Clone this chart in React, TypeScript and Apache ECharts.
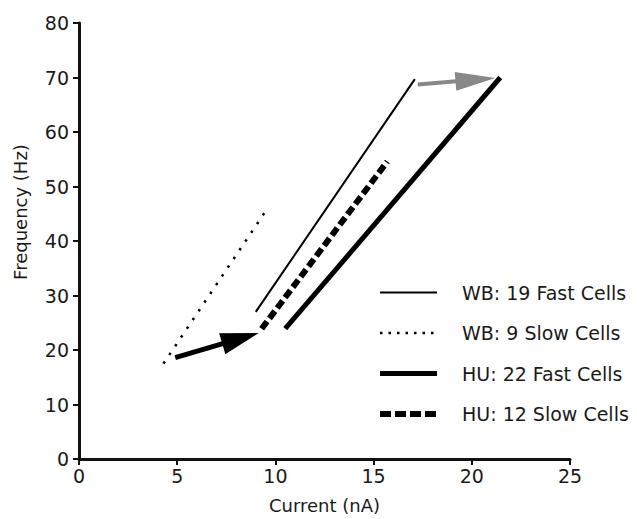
import React, { useEffect, useRef } from "react";
import * as echarts from "echarts";

const xTicks = [0, 5, 10, 15, 20, 25];
const yTicks = [0, 10, 20, 30, 40, 50, 60, 70, 80];

const wbFast: number[][] = [[9.0, 27.0], [17.1, 69.7]];
const wbSlow: number[][] = [[4.3, 17.5], [9.6, 46.0]];
const huFast: number[][] = [[10.5, 23.9], [21.45, 70.0]];
const huSlow: number[][] = [[9.3, 23.9], [15.7, 54.6]];

// arrows: [startX, startY, endX, endY]
const blackArrow: number[] = [4.9, 18.6, 9.15, 23.1];
const grayArrow: number[] = [17.25, 68.7, 21.2, 69.9];

const seriesNames = ["WB: 19 Fast Cells", "WB: 9 Slow Cells", "HU: 22 Fast Cells", "HU: 12 Slow Cells"];

const FONT = "DejaVu Sans";
const TXT = "#1a1a1a";

function arrowSeries(arrow: number[], color: string, width: number, headLen: number, headW: number) {
  return {
    type: "custom",
    coordinateSystem: "cartesian2d",
    data: [arrow],
    z: 4,
    silent: true,
    renderItem: (params: any, api: any) => {
      const p1 = api.coord([api.value(0), api.value(1)]);
      const p2 = api.coord([api.value(2), api.value(3)]);
      const dx = p2[0] - p1[0];
      const dy = p2[1] - p1[1];
      const len = Math.sqrt(dx * dx + dy * dy) || 1;
      const ux = dx / len;
      const uy = dy / len;
      const bx = p2[0] - ux * headLen;
      const by = p2[1] - uy * headLen;
      const nx = -uy;
      const ny = ux;
      return {
        type: "group",
        children: [
          {
            type: "line",
            shape: { x1: p1[0], y1: p1[1], x2: bx + ux * 4, y2: by + uy * 4 },
            style: { stroke: color, lineWidth: width },
          },
          {
            type: "polygon",
            shape: {
              points: [
                [p2[0], p2[1]],
                [bx + nx * headW / 2, by + ny * headW / 2],
                [bx - nx * headW / 2, by - ny * headW / 2],
              ],
            },
            style: { fill: color },
          },
        ],
      };
    },
  };
}

export default function App() {
  const ref = useRef<HTMLDivElement>(null);
  useEffect(() => {
    if (!ref.current) return;
    const chart = echarts.init(ref.current, null, { renderer: "svg" });
    const lineBase = { type: "line", showSymbol: false, symbol: "none", z: 3, color: "#000", itemStyle: { color: "#000", opacity: 0 } } as any;
    const styles = [
      { color: "#000", width: 2, type: "solid" },
      { color: "#000", width: 2.5, type: [2.5, 8] },
      { color: "#000", width: 5, type: "solid" },
      { color: "#000", width: 6, type: [9, 4] },
    ];
    const legendStyles = [
      { color: "#000", width: 2, type: "solid" },
      { color: "#000", width: 2.5, type: [2.5, 6] },
      { color: "#000", width: 5, type: "solid" },
      { color: "#000", width: 6, type: [11, 4] },
    ];
    chart.setOption({
      animation: false,
      backgroundColor: "#fff",
      grid: { left: 79, right: 67, top: 23, bottom: 56, containLabel: false },
      xAxis: {
        type: "value",
        min: xTicks[0],
        max: xTicks[xTicks.length - 1],
        interval: 5,
        name: "Current (nA)",
        nameLocation: "middle",
        nameGap: 37,
        nameTextStyle: { fontFamily: FONT, fontSize: 18, color: TXT },
        axisLine: { lineStyle: { color: "#111", width: 3 } },
        axisTick: { length: 6, lineStyle: { color: "#111", width: 2 } },
        axisLabel: { fontFamily: FONT, fontSize: 19, color: TXT, margin: 7 },
        splitLine: { show: false },
      },
      yAxis: {
        type: "value",
        min: yTicks[0],
        max: yTicks[yTicks.length - 1],
        interval: 10,
        axisLine: { show: true, lineStyle: { color: "#111", width: 3 } },
        axisTick: { show: true, length: 6, lineStyle: { color: "#111", width: 2 } },
        axisLabel: { fontFamily: FONT, fontSize: 19, color: TXT, margin: 10 },
        splitLine: { show: false },
      },
      legend: {
        orient: "vertical",
        left: 372,
        top: 278,
        itemWidth: 57,
        itemHeight: 18,
        itemGap: 21.5,
        itemStyle: { opacity: 0 },
        data: seriesNames.map((n, i) => ({ name: n, lineStyle: legendStyles[i], itemStyle: { opacity: 0 } })),
        textStyle: { fontFamily: FONT, fontSize: 19, color: TXT, padding: [0, 0, 0, 20] },
      },
      graphic: [
        {
          type: "text",
          x: 20,
          y: 212,
          rotation: Math.PI / 2,
          style: {
            text: "Frequency (Hz)",
            fontFamily: FONT,
            fontSize: 18,
            fill: TXT,
            align: "center",
            verticalAlign: "middle",
          },
        },
      ],
      series: [
        ...seriesNames.map((n, i) => ({
          ...lineBase,
          name: n,
          data: [wbFast, wbSlow, huFast, huSlow][i],
          lineStyle: styles[i],
        })),
        arrowSeries(blackArrow, "#000", 5, 38, 22),
        arrowSeries(grayArrow, "#888", 4, 40, 19),
      ],
    });
    return () => chart.dispose();
  }, []);
  return <div ref={ref} style={{ width: 637, height: 519, position: "fixed", left: 0, top: 0 }} />;
}
